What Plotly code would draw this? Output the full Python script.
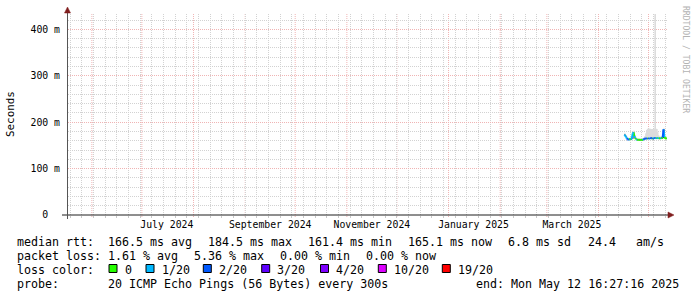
import plotly.graph_objects as go
import pandas as pd

# ---------------- data ----------------
range_start = "2024-05-17 16:27:16"
range_end = "2025-05-12 16:27:16"

# 12-hour consolidated samples (SmokePing 360-day view)
sample_times = pd.date_range("2025-04-16 12:00", periods=52, freq="12h")

median_ms = [173, 171, 168, 165, 163, 162, 163, 164, 163, 165,
             176, 178, 170, 166, 163, 162, 162, 161.5, 162, 161.4,
             162, 161.5, 162, 163, 164, 165, 165, 165, 165, 164.5,
             165, 165, 166, 165, 164, 165, 166, 166, 165, 166,
             165, 166, 165, 165, 166, 165, 167, 184.5, 168, 165,
             165, 165.1]

loss_pings = [1.2, 1.0, 0.8, 0.6, 1.5, 1.2, 0.5, 0, 0, 0.5,
              1.0, 1.0, 0, 0.5, 0, 0.3, 0, 0, 0, 0,
              0, 0, 0, 0.4, 1.2, 1.5, 1.2, 1.3, 0, 1.5,
              1.2, 0.5, 1.2, 1.3, 0, 1.2, 0.8, 1.4, 0.6, 0,
              0.6, 0.5, 0, 0, 0.5, 0, 0, 1.2, 0.6, 0,
              0, 0]

smoke_lo_ms = [171, 169, 166, 163, 161, 160, 161, 162, 161, 163,
               164, 165, 168, 164, 161, 160, 160, 159.5, 160, 159.5,
               160, 159.5, 160, 161, 162, 163, 163, 163, 163, 162.5,
               163, 163, 164, 163, 162, 163, 164, 164, 163, 164,
               163, 164, 163, 163, 164, 163, 165, 166, 166, 163,
               163, 163]

smoke_hi_ms = [177, 175, 172, 169, 167, 166, 167, 168, 167, 169,
               180, 182, 174, 170, 167, 166, 166, 165, 166, 165,
               166, 165, 166, 167, 170, 176, 183, 185, 187, 187,
               186, 186, 185, 185, 185, 186, 460, 460, 186, 185,
               178, 172, 169, 169, 170, 169, 171, 188, 172, 169,
               169, 169]

core_lo_ms = [172, 170, 167, 164, 162, 161, 162, 163, 162, 164,
              175, 164, 169, 165, 162, 161, 161, 160.5, 161, 160.5,
              161, 160.5, 161, 162, 163, 164, 164, 164, 164, 163.5,
              164, 164, 165, 164, 163, 164, 165, 165, 164, 165,
              164, 165, 164, 164, 165, 164, 166, 166, 167, 164,
              164, 164]

core_hi_ms = [174, 172, 169, 166, 164, 163, 164, 165, 164, 166,
              177, 178, 171, 167, 164, 163, 163, 162.5, 163, 162.5,
              163, 162.5, 163, 164, 165, 166, 166, 166, 166, 165.5,
              166, 166, 167, 166, 165, 166, 167, 167, 166, 167,
              166, 167, 166, 166, 167, 166, 168, 185, 169, 166,
              166, 166]

loss_thresholds = [0, 1, 2, 3, 4, 10, 19]
loss_labels = ["0", "1/20", "2/20", "3/20", "4/20", "10/20", "19/20"]
loss_colors = ["#26ff00", "#00b8ff", "#0059ff", "#5e00ff", "#7e00ff", "#dd00ff", "#ff0000"]

month_lines = pd.date_range("2024-06-01", "2025-05-01", freq="MS")
week_lines = pd.date_range("2024-05-19", "2025-05-11", freq="7D")
label_dates = ["2024-07-16", "2024-09-16", "2024-11-16", "2025-01-16", "2025-03-16"]
label_text = ["July 2024", "September 2024", "November 2024", "January 2025", "March 2025"]

y_ticks = [0, 100, 200, 300, 400]
y_ticktext = ["0\u00a0\u00a0", "100 m", "200 m", "300 m", "400 m"]
y_max = 433

legend_lines = [
    ("median rtt:", ["166.5 ms avg", "184.5 ms max", "161.4 ms min", "165.1 ms now", "6.8 ms sd", "24.4", "am/s"]),
    ("packet loss:", ["1.61 % avg", "5.36 % max", "0.00 % min", "0.00 % now"]),
]
probe_text = "20 ICMP Echo Pings (56 Bytes) every 300s"
end_text = "end: Mon May 12 16:27:16 2025"

# ---------------- layout geometry ----------------
W, H = 697, 297
L, R, T, B = 68, 29, 14, 82
PW, PH = W - L - R, H - T - B
FONT = "DejaVu Sans Mono"
GRID = "#d2d2d2"
MGRID = "#f0b4b4"


def px(x):
    return (x - L) / PW


def py(y):
    return (H - B - y) / PH


def loss_color(v):
    prev = -1
    for thr, col in zip(loss_thresholds, loss_colors):
        if prev < v <= thr:
            return col
        prev = thr
    return loss_colors[-1]


fig = go.Figure()

# smoke (outer, light)
fig.add_trace(go.Scatter(x=sample_times, y=smoke_lo_ms, mode="lines",
                         line=dict(width=0, shape="hv"), hoverinfo="skip", showlegend=False))
fig.add_trace(go.Scatter(x=sample_times, y=smoke_hi_ms, mode="lines", fill="tonexty",
                         fillcolor="#dcdcdc", line=dict(width=0, shape="hv"),
                         hoverinfo="skip", showlegend=False))
# smoke (core, dark)
fig.add_trace(go.Scatter(x=sample_times, y=core_lo_ms, mode="lines",
                         line=dict(width=0, shape="hv"), hoverinfo="skip", showlegend=False))
fig.add_trace(go.Scatter(x=sample_times, y=core_hi_ms, mode="lines", fill="tonexty",
                         fillcolor="#383838", line=dict(width=0, shape="hv"),
                         hoverinfo="skip", showlegend=False))

# median line coloured by loss
segs = {c: ([], []) for c in loss_colors}
for i in range(len(median_ms) - 1):
    c = loss_color(loss_pings[i + 1])
    segs[c][0].extend([sample_times[i], sample_times[i + 1], None])
    segs[c][1].extend([median_ms[i], median_ms[i + 1], None])
for c, (xs, ys) in segs.items():
    if xs:
        fig.add_trace(go.Scatter(x=xs, y=ys, mode="lines", line=dict(color=c, width=2),
                                 hoverinfo="skip", showlegend=False, connectgaps=False))

shapes = []
# monthly major grid
for d in month_lines:
    shapes.append(dict(type="line", xref="x", yref="paper", x0=d, x1=d, y0=-2 / PH, y1=1,
                       line=dict(color=MGRID, width=1, dash="1px,1px"), layer="below"))
# axes
shapes.append(dict(type="line", xref="paper", yref="paper", x0=px(62), x1=px(669),
                   y0=0, y1=0, line=dict(color="#1f1f1f", width=1), layer="above"))
shapes.append(dict(type="line", xref="paper", yref="paper", x0=px(67.5), x1=px(67.5),
                   y0=py(219), y1=py(12), line=dict(color="#555555", width=1), layer="above"))
# arrows
shapes.append(dict(type="path", xref="paper", yref="paper",
                   path=f"M {px(67.5)},{py(7)} L {px(64.5)},{py(13)} L {px(70.5)},{py(13)} Z",
                   fillcolor="#801f1f", line=dict(color="#801f1f", width=0.5), layer="above"))
shapes.append(dict(type="path", xref="paper", yref="paper",
                   path=f"M {px(674)},{py(215)} L {px(668)},{py(212)} L {px(668)},{py(218)} Z",
                   fillcolor="#801f1f", line=dict(color="#801f1f", width=0.5), layer="above"))

annotations = []


def text(x, y, s, anchor="left", size=11.65, color="#000000", angle=0):
    annotations.append(dict(x=px(x), y=py(y), xref="paper", yref="paper", text=s,
                            showarrow=False, xanchor=anchor, yanchor="middle",
                            borderpad=0, textangle=angle,
                            font=dict(family=FONT, size=size, color=color)))


line_y = [241.5, 255.5, 269.5, 283.5]
col_x = [
    [107.3, 207.3, 307.3, 407.3, 507.3, 586.5, 635],
    [107.3, 193.3, 279.3, 365.3],
]
for (head, items), y, xs in zip(legend_lines, line_y[:2], col_x):
    text(16, y, head)
    for s, x in zip(items, xs):
        text(x, y, s)

text(16, line_y[2], "loss color:")
box_x = [109, 146, 203.3, 261.7, 320.5, 378.3, 442.3]
for bx, lab, col in zip(box_x, loss_labels, loss_colors):
    shapes.append(dict(type="rect", xref="paper", yref="paper",
                       x0=px(bx), x1=px(bx + 8), y0=py(272.5), y1=py(264.5),
                       fillcolor=col, line=dict(color="#000000", width=1), layer="above"))
    text(bx + 14.5, line_y[2], lab)

text(16, line_y[3], "probe:")
text(107.3, line_y[3], probe_text)
text(680, line_y[3], end_text, anchor="right")

# y title and watermark
text(11, 114, "Seconds", anchor="center", size=10.9, angle=-90)
text(686, 59, "RRDTOOL / TOBI OETIKER", anchor="center", size=8.1, color="#b3b3b3", angle=90)

fig.update_layout(
    width=W, height=H,
    margin=dict(l=L, r=R, t=T, b=B, pad=0),
    paper_bgcolor="#ffffff", plot_bgcolor="#ffffff",
    showlegend=False,
    shapes=shapes, annotations=annotations,
    xaxis=dict(type="date", range=[range_start, range_end],
               tickmode="array", tickvals=label_dates, ticktext=label_text,
               showgrid=False, zeroline=False, showline=False, ticks="",
               tickfont=dict(family=FONT, size=9.8, color="#000000"),
               ticklabelstandoff=2,
               minor=dict(tickmode="array", tickvals=week_lines, showgrid=True,
                          gridcolor=GRID, griddash="1px,1px", gridwidth=1,
                          ticks="outside", ticklen=2, tickcolor="#c8c8c8")),
    yaxis=dict(range=[0, y_max], tickmode="array", tickvals=y_ticks, ticktext=y_ticktext,
               showgrid=True, gridcolor=MGRID, griddash="1px,1px", gridwidth=1,
               zeroline=False, showline=False, ticks="",
               tickfont=dict(family=FONT, size=9.8, color="#000000"),
               ticklabelstandoff=7,
               minor=dict(dtick=20, tick0=0, showgrid=True, gridcolor=GRID,
                          griddash="1px,1px", gridwidth=1)),
)

fig.write_html("out.html")
